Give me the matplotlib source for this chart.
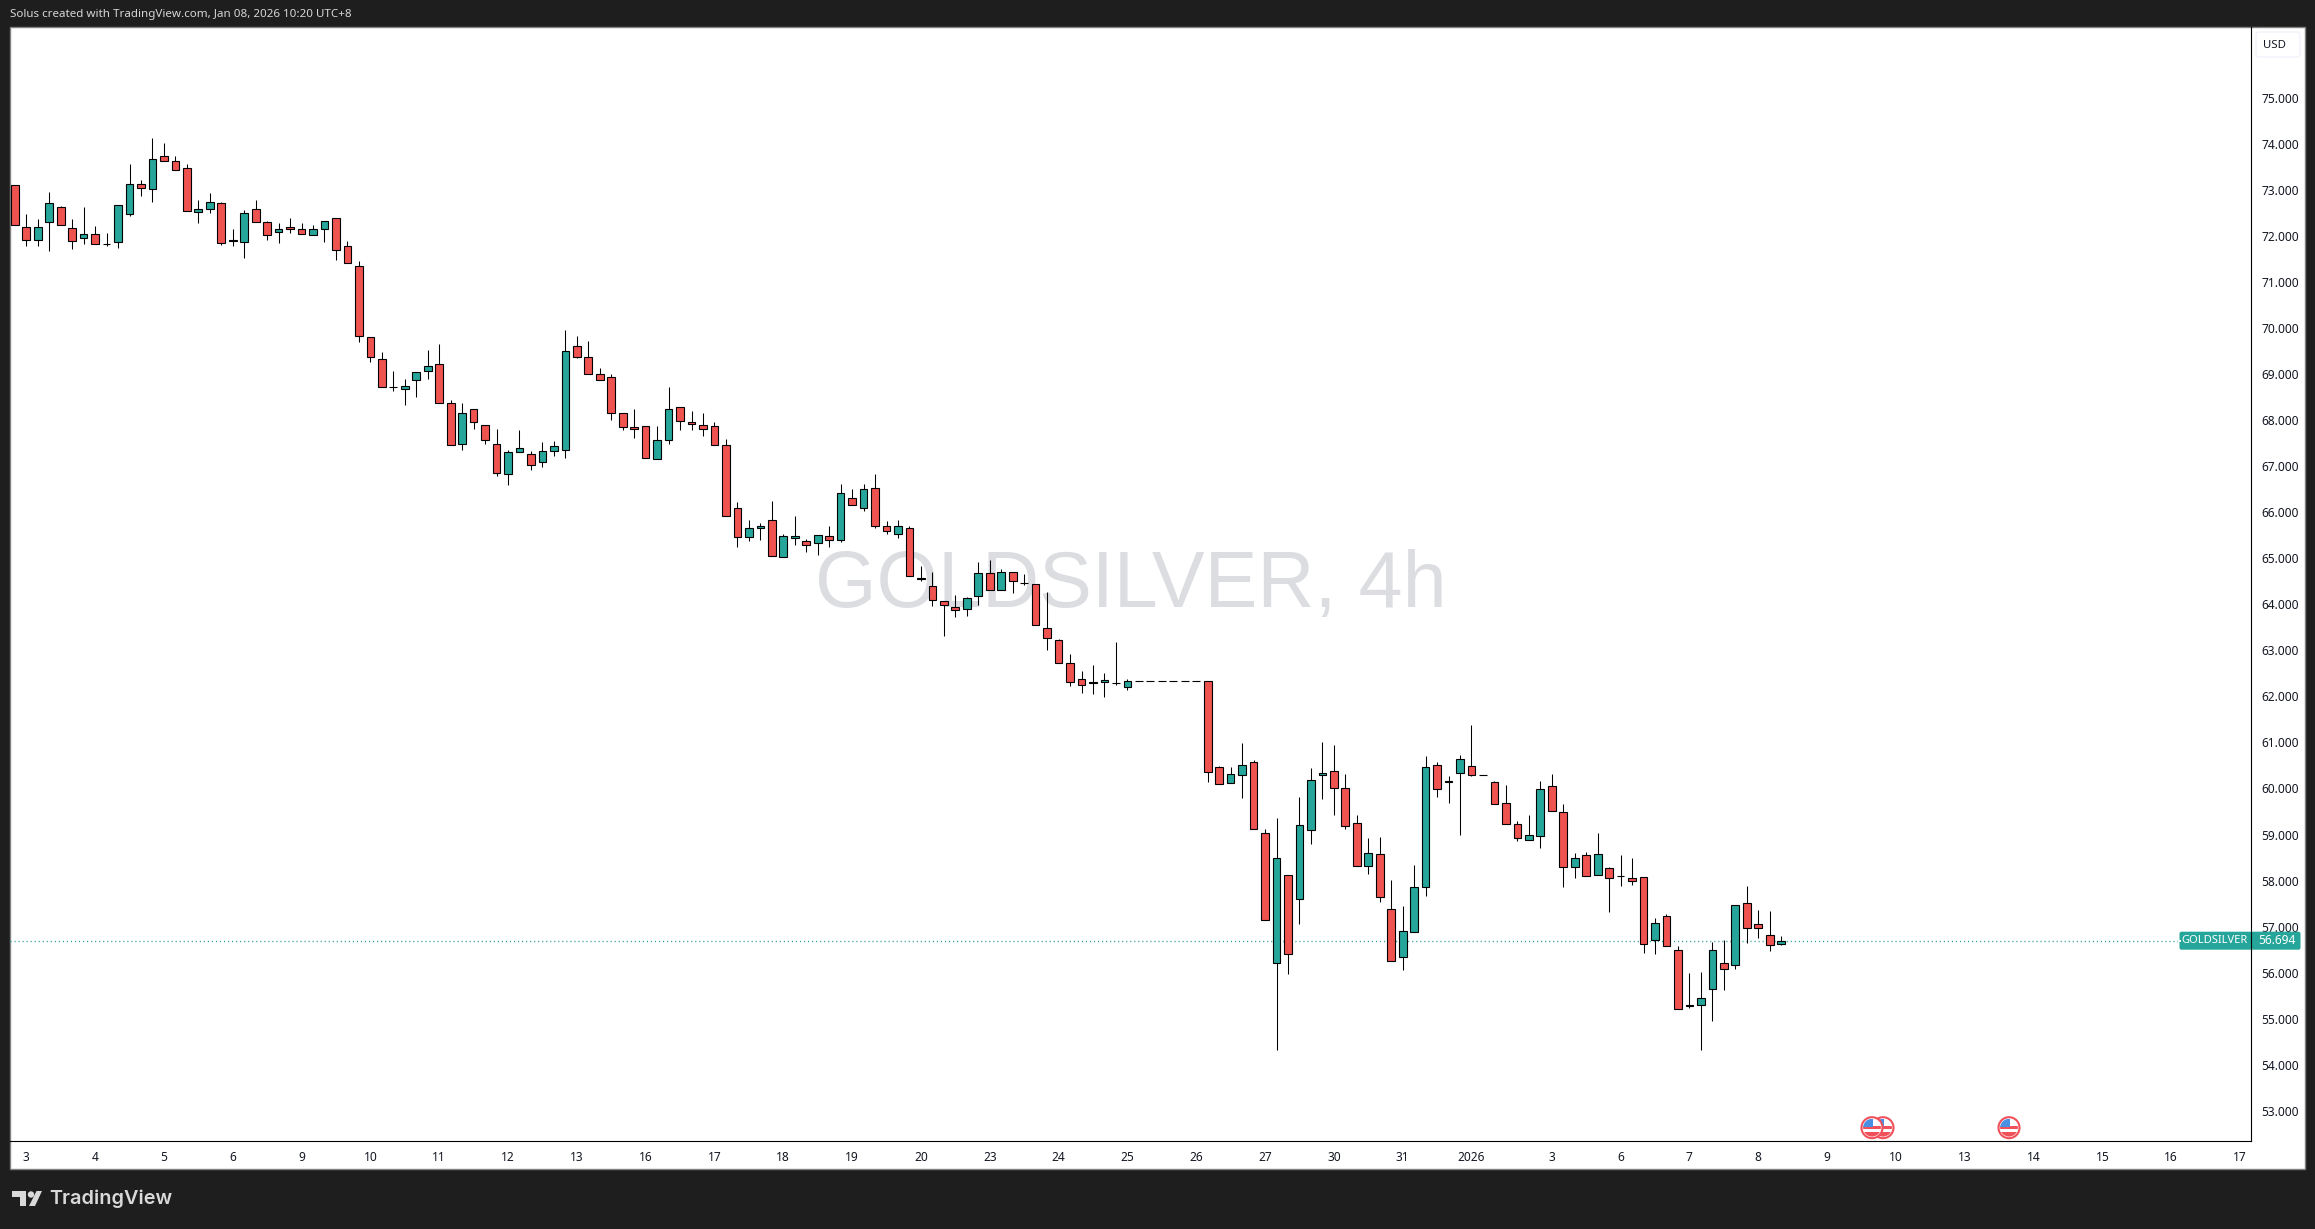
import matplotlib
matplotlib.use("Agg")
import matplotlib.pyplot as plt
from matplotlib.patches import Rectangle, FancyBboxPatch, Circle, Polygon

opens = [73.10,72.19,71.90,72.29,72.62,72.16,71.95,72.05,71.82,71.86,
         72.47,73.12,73.01,73.73,73.62,73.47,72.51,72.58,72.71,71.88,
         71.86,72.58,72.29,72.08,72.19,72.14,72.01,72.14,72.38,71.77,
         71.34,69.80,69.32,68.71,68.67,68.86,69.06,69.21,68.36,67.47,
         68.25,67.89,67.47,66.82,67.30,67.26,67.08,67.32,67.34,69.60,
         69.38,68.99,68.93,68.15,67.84,67.86,67.15,67.56,68.28,67.95,
         67.89,67.86,67.45,66.08,65.45,65.65,65.82,65.02,65.43,65.37,
         65.32,65.48,65.39,66.30,66.10,66.52,65.69,65.52,65.65,64.58,
         64.39,64.06,63.95,63.89,64.17,64.67,64.32,64.69,64.47,64.43,
         63.48,63.22,62.72,62.37,62.31,62.31,62.28,62.20,62.33,62.33,
         62.33,62.33,62.33,62.33,62.33,60.46,60.11,60.29,60.57,59.03,
         56.22,58.11,57.61,59.09,60.29,60.37,60.00,59.26,58.31,58.57,
         57.38,56.35,56.88,57.85,60.50,60.16,60.33,60.48,60.29,60.13,
         59.68,59.22,58.87,58.96,60.05,59.48,58.29,58.55,58.11,58.27,
         58.09,58.05,58.07,56.70,57.22,56.49,55.29,55.29,55.64,56.20,
         56.16,57.51,57.05,56.81,56.62]
highs = [73.10,72.47,72.37,72.95,72.65,72.37,72.63,72.21,72.06,72.66,
         73.56,73.21,74.13,74.02,73.73,73.56,72.78,72.93,72.74,72.15,
         72.56,72.78,72.32,72.28,72.39,72.28,72.24,72.32,72.38,71.89,
         71.45,69.80,69.48,69.07,68.89,69.04,69.52,69.65,68.44,68.37,
         68.25,67.89,67.81,67.35,67.78,67.33,67.52,67.55,69.96,69.83,
         69.72,69.12,68.99,68.15,68.24,67.86,67.87,68.72,68.28,68.20,
         68.15,67.96,67.58,66.22,65.83,65.76,66.24,65.52,65.92,65.42,
         65.50,65.70,66.61,66.50,66.61,66.83,65.81,65.83,65.71,64.83,
         64.70,64.06,64.20,64.15,64.92,64.96,64.77,64.69,64.66,64.43,
         64.27,63.24,62.92,62.55,62.68,62.51,63.18,62.38,62.33,62.33,
         62.33,62.33,62.33,62.33,62.33,60.49,60.47,60.99,60.61,59.11,
         59.36,58.11,59.81,60.44,61.01,60.94,60.31,59.42,58.92,58.95,
         58.01,57.45,58.34,60.70,60.57,60.27,60.73,61.38,60.29,60.16,
         60.08,59.29,59.42,60.16,60.31,59.66,58.60,58.61,59.03,58.29,
         58.56,58.49,58.07,57.18,57.27,56.57,55.99,56.01,56.67,56.70,
         57.46,57.88,57.36,57.34,56.79]
lows = [72.23,71.79,71.77,71.68,72.23,71.72,71.83,71.82,71.79,71.74,
        72.43,72.87,72.74,73.62,73.44,72.55,72.27,72.50,71.81,71.77,
        71.51,72.29,71.92,71.85,72.07,72.03,72.01,71.87,71.48,71.40,
        69.70,69.25,68.71,68.64,68.33,68.51,68.90,68.36,67.45,67.36,
        67.81,67.48,66.79,66.60,67.30,66.92,66.99,67.21,67.18,69.35,
        68.99,68.86,68.01,67.79,67.62,67.17,67.15,67.49,67.79,67.79,
        67.66,67.45,65.91,65.25,65.38,65.40,65.04,65.02,65.29,65.14,
        65.08,65.25,65.36,66.15,66.03,65.66,65.53,65.44,64.61,64.51,
        63.97,63.32,63.73,63.75,63.98,64.32,64.32,64.25,64.42,63.54,
        63.01,62.72,62.23,62.07,62.05,61.99,62.25,62.14,62.33,62.33,
        62.33,62.33,62.33,62.33,60.13,60.09,60.11,59.80,59.11,57.14,
        54.31,55.96,57.06,58.80,59.78,59.43,59.13,58.31,58.15,57.54,
        56.25,56.06,56.88,57.67,59.81,59.69,59.00,60.26,60.29,59.66,
        59.22,58.85,58.87,58.71,59.50,57.85,58.06,58.09,58.11,57.32,
        57.89,57.91,56.43,56.41,56.57,55.20,55.24,54.33,54.96,55.63,
        56.09,56.65,56.75,56.48,56.59]
closes = [72.23,71.90,72.19,72.71,72.23,71.88,72.03,71.82,71.82,72.66,
          73.12,73.03,73.66,73.62,73.44,72.55,72.58,72.73,71.84,71.92,
          72.49,72.29,72.01,72.14,72.14,72.03,72.14,72.32,71.69,71.40,
          69.82,69.36,68.71,68.71,68.73,69.04,69.17,68.36,67.45,68.15,
          67.95,67.56,66.84,67.30,67.39,67.02,67.32,67.43,69.51,69.38,
          68.99,68.86,68.15,67.84,67.80,67.17,67.56,68.23,67.99,67.91,
          67.80,67.45,65.91,65.47,65.65,65.71,65.04,65.48,65.48,65.28,
          65.50,65.39,66.41,66.15,66.50,65.69,65.58,65.71,64.61,64.54,
          64.09,63.98,63.87,64.13,64.67,64.32,64.69,64.50,64.46,63.54,
          63.26,62.72,62.31,62.24,62.29,62.36,62.28,62.33,62.33,62.33,
          62.33,62.33,62.33,62.33,60.35,60.09,60.31,60.52,59.11,57.14,
          58.48,56.40,59.20,60.18,60.33,60.00,59.18,58.31,58.59,57.64,
          56.25,56.90,57.85,60.46,59.98,60.13,60.63,60.29,60.29,59.66,
          59.22,58.92,58.98,59.98,59.50,58.29,58.48,58.09,58.57,58.05,
          58.09,57.98,56.62,57.07,56.57,55.20,55.27,55.44,56.49,56.09,
          57.46,56.98,56.96,56.59,56.694]

price_ticks = list(range(53, 76))
date_ticks = [1,7,13,19,25,31,37,43,49,55,61,67,73,79,85,91,97,103,109,115,121,127,
              134,140,146,152,158,164,170,176,182,188,194]
date_labels = ["3","4","5","6","9","10","11","12","13","16","17","18","19","20","23","24",
               "25","26","27","30","31","2026","3","6","7","8","9","10","13","14","15","16","17"]
last_price = 56.694
symbol = "GOLDSILVER"

W, H = 2315, 1229
BG = "#1e1e1e"
GREEN = "#26a69a"
RED = "#ef5350"
TXT = "#131722"
FONT = ["Noto Sans", "DejaVu Sans"]
plt.rcParams["font.family"] = FONT

fig = plt.figure(figsize=(W / 100, H / 100), dpi=100, facecolor=BG)

L, R, T, B = 10, 2251, 27, 1141   # price pane, in pixels
PR, BOT = 2304, 1168              # outer edge of the axes strips

def rect_axes(x0, y0, x1, y1, **kw):
    return fig.add_axes([x0 / W, 1 - y1 / H, (x1 - x0) / W, (y1 - y0) / H], **kw)

# pixel overlay for chrome
ov = rect_axes(0, 0, W, H, zorder=0)
ov.set_xlim(0, W); ov.set_ylim(H, 0); ov.axis("off")
ov.add_patch(Rectangle((L - 0.5, T - 0.5), PR - L + 1, BOT - T + 1, fc="white", ec="#808080", lw=1))

ax = rect_axes(L, T, R, B, zorder=1)
ax.patch.set_alpha(0)
xs = list(range(len(opens)))
ax.set_xlim((L - 14.8) / 11.47, (R - 14.8) / 11.47)
ax.set_ylim(75 - (B - 97.7) / 46.05, 75 + (97.7 - T) / 46.05)

ax.text(0.5001, 0.4975, f"{symbol}, 4h", transform=ax.transAxes, ha="center", va="center",
        fontsize=57, color="#dcdde0", family="Liberation Sans", zorder=0)

colors = [GREEN if c >= o else RED for o, c in zip(opens, closes)]
ax.axhline(last_price, color=GREEN, lw=1.0, ls=(0, (0.8, 2.1)), zorder=1)
wicks = ax.vlines(xs, lows, highs, colors="black", lw=0.75, zorder=2)
wicks.set_snap(True)
ax.bar(xs, [abs(c - o) for o, c in zip(opens, closes)], bottom=[min(o, c) for o, c in zip(opens, closes)],
       width=0.67, color=colors, edgecolor="black", linewidth=0.8, zorder=3)

for s in ("top", "left"):
    ax.spines[s].set_visible(False)
for s in ("right", "bottom"):
    ax.spines[s].set_color("black"); ax.spines[s].set_linewidth(0.8)

ax.yaxis.tick_right()
ax.set_yticks(price_ticks)
ax.set_yticklabels([f"{p}.000" for p in price_ticks], fontsize=8.6, color=TXT)
ax.set_xticks(date_ticks)
ax.set_xticklabels(date_labels, fontsize=8.6, color=TXT)
for lab, txt in zip(ax.get_xticklabels(), date_labels):
    if txt == "2026":
        lab.set_fontweight("bold")
ax.tick_params(axis="both", length=0)
ax.tick_params(axis="y", pad=7.5)
ax.tick_params(axis="x", pad=7)

# chrome on top: last-price flag, USD box, header, logo, event flags
top = rect_axes(0, 0, W, H, zorder=2)
top.set_xlim(0, W); top.set_ylim(H, 0); top.axis("off"); top.patch.set_alpha(0)

def price_y(p):
    return 97.7 + (75 - p) * 46.05

yl = price_y(last_price)
top.add_patch(FancyBboxPatch((2181, yl - 7.5), 118, 15, boxstyle="round,pad=1.5,rounding_size=2",
                             fc=GREEN, ec="none"))
top.plot([R, R], [yl - 9, yl + 9], color="black", lw=0.8)
top.add_patch(Rectangle((2178, yl - 1), 2.5, 2, fc="white", ec="none"))
top.text(2215, yl, symbol, color="white", fontsize=8.0, ha="center", va="center")
top.text(2277, yl, f"{last_price:.3f}", color="white", fontsize=8.6, ha="center", va="center")
top.add_patch(FancyBboxPatch((2257, 33), 42, 23, boxstyle="round,pad=1,rounding_size=3",
                             fc="white", ec="#f0f3fa", lw=1))
top.text(2274.5, 45.5, "USD", color=TXT, fontsize=8.2, ha="center", va="center")

top.text(10, 15, "Solus created with TradingView.com, Jan 08, 2026 10:20 UTC+8",
         color="#d6d6d6", fontsize=8.35, ha="left", va="center")

LOGO = "#d9d9d9"
top.add_patch(Polygon([(12, 1191), (26, 1191), (26, 1206), (20, 1206), (20, 1197), (12, 1197)], fc=LOGO, ec="none"))
top.add_patch(Circle((31, 1194.5), 3.2, fc=LOGO, ec="none"))
top.add_patch(Polygon([(36.5, 1191), (42, 1191), (35, 1206), (29, 1206)], fc=LOGO, ec="none"))
top.text(49, 1199, "TradingView", color=LOGO, fontsize=14.3, fontweight="semibold",
         family="Inter", ha="left", va="center")

def flag(cx, cy, z):
    r = 10.5
    ring = Circle((cx, cy), r, fc="white", ec="#f0505a", lw=1.5, zorder=z)
    top.add_patch(ring)
    inner = Circle((cx, cy), r - 1.6, transform=top.transData)
    for y0, h, fc, x0, w in [(cy - 9, 18, "white", cx - 9, 18),
                             (cy - 1.5, 3.2, "#f0505a", cx - 9, 18),
                             (cy + 4, 5, "#f0505a", cx - 9, 18),
                             (cy - 9, 8, "#4a90e2", cx - 9, 9.5)]:
        p = Rectangle((x0, y0), w, h, fc=fc, ec="none", zorder=z + 0.1)
        top.add_patch(p); p.set_clip_path(inner)

flag(1883, 1127.7, 5)
flag(1872, 1127.7, 6)
flag(2009, 1127.7, 5)

fig.savefig("out.png", dpi=100, facecolor=BG)
